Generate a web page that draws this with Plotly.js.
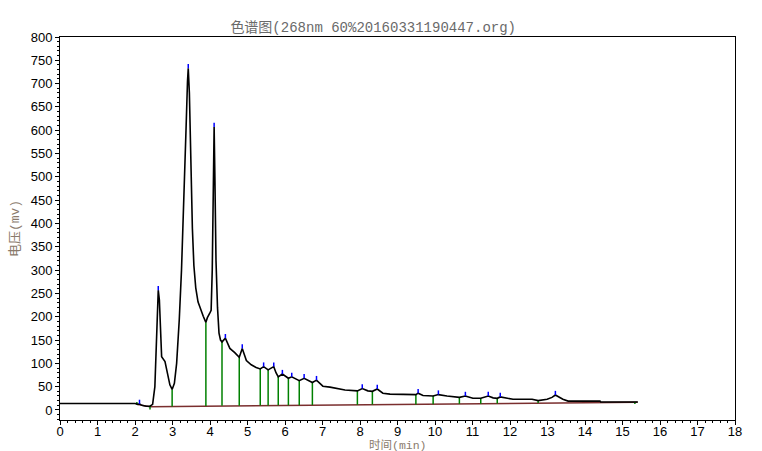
<!DOCTYPE html>
<html>
<head>
<meta charset="utf-8">
<script src="https://cdn.plot.ly/plotly-3.0.1.min.js"></script>
<style>html,body{margin:0;padding:0;background:#fff;}#chart{width:762px;height:451px;}</style>
</head>
<body>
<div id="chart"></div>
<script>
// Chromatogram signal (time in min, voltage in mV)
var signalT = [0, 1.0, 2.0, 2.08, 2.12, 2.18, 2.3, 2.4, 2.47, 2.53, 2.58, 2.62, 2.65, 2.68, 2.71, 2.8, 2.86, 2.93, 2.99, 3.05, 3.11, 3.18, 3.24, 3.3, 3.36, 3.4, 3.42, 3.45, 3.48, 3.5, 3.53, 3.57, 3.62, 3.68, 3.75, 3.82, 3.89, 3.93, 3.99, 4.03, 4.06, 4.08, 4.11, 4.13, 4.16, 4.2, 4.24, 4.28, 4.32, 4.41, 4.46, 4.53, 4.66, 4.78, 4.86, 4.9, 4.97, 5.1, 5.23, 5.34, 5.43, 5.55, 5.70, 5.76, 5.82, 5.93, 6.09, 6.18, 6.38, 6.51, 6.73, 6.84, 6.93, 7.01, 7.2, 7.41, 7.6, 7.93, 8.06, 8.21, 8.33, 8.46, 8.61, 8.8, 9.41, 9.49, 9.55, 9.68, 9.95, 10.09, 10.32, 10.65, 10.81, 11.01, 11.22, 11.42, 11.55, 11.66, 11.74, 12.0, 12.08, 12.59, 12.75, 12.99, 13.12, 13.21, 13.33, 13.41, 13.55, 13.73, 14.4, 14.42, 15.41];
var signalV = [14, 14, 14, 12, 13, 10, 8, 8, 12, 50, 193, 257, 236, 157, 114, 104, 79, 54, 44, 57, 100, 193, 300, 430, 600, 705, 733, 680, 560, 480, 390, 310, 262, 232, 215, 201, 188, 198, 207, 214, 300, 450, 607, 500, 320, 220, 165, 150, 146, 154, 146, 132, 123, 113, 132, 122, 106, 97, 91, 88, 93, 86, 93, 80, 71, 77, 68, 71, 63, 68, 59, 64, 56, 51, 49, 45, 43, 41, 46, 41, 40, 45, 36, 34, 34, 33, 36, 31, 30, 33, 30, 27, 30, 25, 25, 30, 26, 25, 28, 25, 23, 23, 20, 23, 27, 32, 27, 23, 19, 19, 19, 17, 17];

// Baseline (brown)
var baseT = [2.05, 2.4, 15.4];
var baseV = [12, 7, 16.5];

// Peak boundaries (green drop lines)
var dropT   = [2.05, 2.40, 2.99, 3.89, 4.32, 4.78, 5.34, 5.55, 5.82, 6.09, 6.38, 6.73, 7.93, 8.33, 9.49, 9.95, 10.65, 11.22, 11.66, 12.75, 15.33];
var dropTop = [17, 9, 44, 188, 146, 113, 88, 86, 71, 68, 63, 59, 41, 40, 33, 30, 27, 25, 25, 20, 17];
var dropBot = [11, 1, 7.5, 8.5, 9, 9, 9.5, 9.5, 10, 10, 10, 10.5, 11, 11.5, 12, 12.5, 13, 13.5, 14, 15, 13];

// Peak apexes (blue marks)
var apexT = [2.12, 2.62, 3.42, 4.11, 4.41, 4.86, 5.43, 5.70, 5.93, 6.18, 6.51, 6.84, 8.06, 8.46, 9.55, 10.09, 10.81, 11.42, 11.74, 13.21];
var apexV = [13, 257, 733, 607, 154, 132, 93, 93, 77, 71, 68, 64, 46, 45, 36, 33, 30, 30, 28, 32];
var apexLen = 9;

var xTicks = [0,1,2,3,4,5,6,7,8,9,10,11,12,13,14,15,16,17,18];
var yTicks = [0,50,100,150,200,250,300,350,400,450,500,550,600,650,700,750,800];

function segs(xs, y0, y1) {
  var x = [], y = [];
  for (var i = 0; i < xs.length; i++) {
    x.push(xs[i], xs[i], null);
    y.push(y0[i], y1[i], null);
  }
  return {x: x, y: y};
}
var drops = segs(dropT, dropBot, dropTop);
var apexTop = apexV.map(function (v) { return v + apexLen; });
var apexes = segs(apexT, apexV, apexTop);

var traces = [
  {x: baseT, y: baseV, mode: 'lines', line: {color: '#7a2e2e', width: 1.5}, hoverinfo: 'skip'},
  {x: drops.x, y: drops.y, mode: 'lines', line: {color: '#008000', width: 1.5}, connectgaps: false, hoverinfo: 'skip'},
  {x: signalT, y: signalV, mode: 'lines', line: {color: '#000000', width: 1.6}},
  {x: apexes.x, y: apexes.y, mode: 'lines', line: {color: '#0000ff', width: 1.5}, connectgaps: false, hoverinfo: 'skip'}
];

var cjk = 'Liberation Mono, "Noto Sans CJK SC", monospace';
var layout = {
  width: 762, height: 451,
  margin: {l: 60, r: 27, t: 37, b: 31},
  paper_bgcolor: '#ffffff', plot_bgcolor: '#ffffff',
  showlegend: false,
  title: {text: '色谱图(268nm 60%20160331190447.org)', font: {family: cjk, size: 14, color: '#6a6a6a'},
          x: 0.464, xref: 'paper', xanchor: 'center', y: 0.94, yref: 'container', yanchor: 'middle'},
  xaxis: {
    range: [0, 18], tickvals: xTicks, ticktext: xTicks.map(String),
    showgrid: false, zeroline: false, showline: true, linecolor: '#000', linewidth: 1, mirror: true,
    ticks: 'outside', ticklen: 4, tickcolor: '#000', tickwidth: 1, ticklabelstandoff: -5,
    minor: {dtick: 0.2, ticks: 'outside', ticklen: 2, tickcolor: '#000', showgrid: false},
    tickfont: {family: 'Liberation Sans, Arial, sans-serif', size: 13, color: '#000'}
  },
  yaxis: {
    range: [-21.5, 800], tickvals: yTicks, ticktext: yTicks.map(String),
    showgrid: false, zeroline: false, showline: true, linecolor: '#000', linewidth: 1, mirror: true,
    ticks: 'outside', ticklen: 4, tickcolor: '#000', tickwidth: 1,
    minor: {dtick: 10, ticks: 'outside', ticklen: 2, tickcolor: '#000', showgrid: false},
    tickfont: {family: 'Liberation Sans, Arial, sans-serif', size: 13, color: '#000'},
    title: {text: '电压(mv)', font: {family: cjk, size: 13, color: '#8a7a6c'}, standoff: 8}
  },
  annotations: [
    {text: '时间(min)', xref: 'paper', yref: 'paper', x: 0.5, y: 0, xanchor: 'center', yanchor: 'middle',
     yshift: -25, borderpad: 0, showarrow: false, font: {family: cjk, size: 11.5, color: '#8a7a6c'}}
  ]
};

Plotly.newPlot('chart', traces, layout, {staticPlot: true, displayModeBar: false});
</script>
</body>
</html>
